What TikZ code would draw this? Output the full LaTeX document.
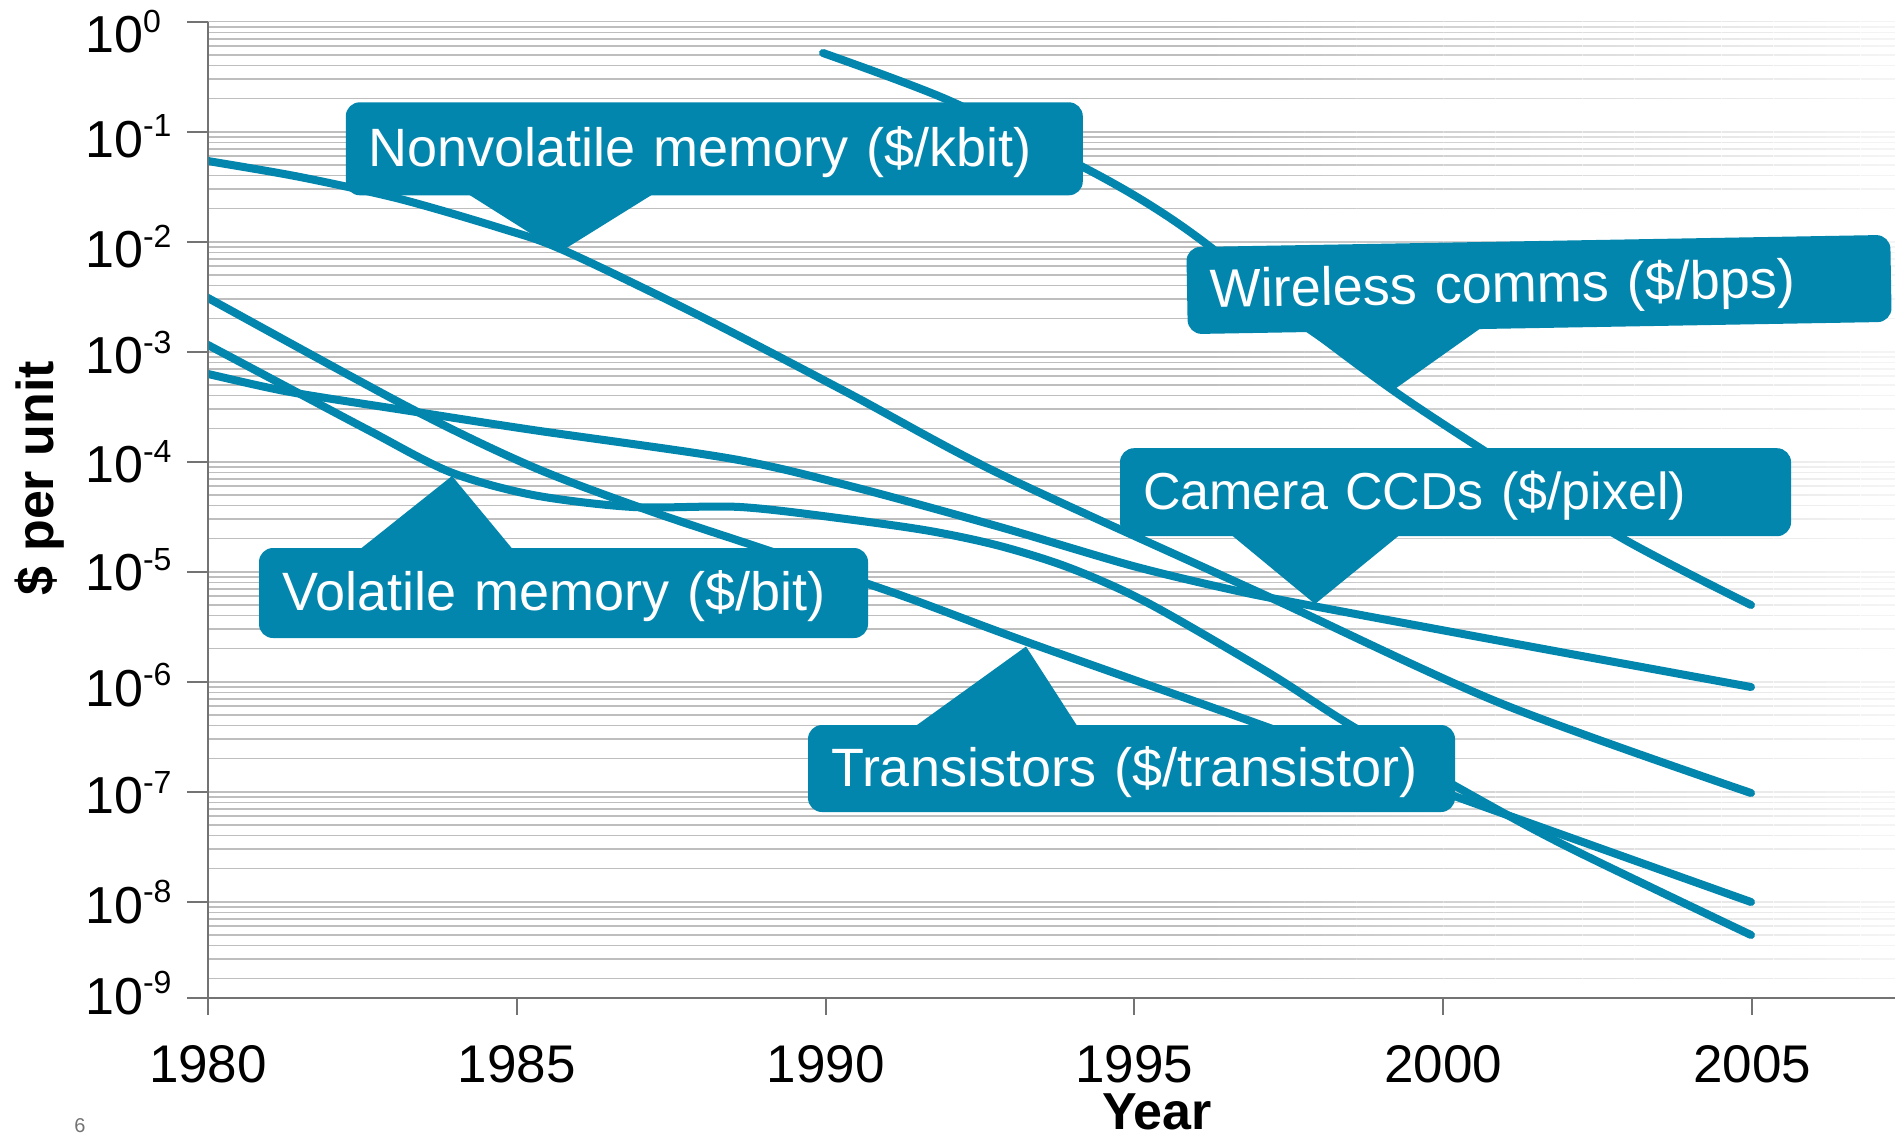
\documentclass[tikz,border=0pt]{standalone}
\usepackage{fontspec}
\setmainfont{Liberation Sans}
\usetikzlibrary{calc}
\definecolor{cblue}{RGB}{2,134,173}
\definecolor{gridgray}{RGB}{190,190,190}
\definecolor{axisgray}{RGB}{115,115,115}
\begin{document}
\begin{tikzpicture}[x=1pt,y=-1pt,
  gridline/.style={draw=gridgray, line width=1.6pt},
  axisline/.style={draw=axisgray, line width=2pt},
  curve/.style={draw=cblue, line width=8pt, line cap=round, line join=round},
  callout/.style={fill=cblue, rounded corners=14pt, text=white, inner xsep=23pt, inner ysep=0pt,
     align=left, text height=40pt, text depth=5pt, font=\fontsize{54}{60}\selectfont},
  pointer/.style={fill=cblue},
  ticklab/.style={anchor=base west, inner sep=0pt, font=\fontsize{52}{56}\selectfont},
  yearlab/.style={anchor=base, inner sep=0pt, font=\fontsize{53}{56}\selectfont},
  axislab/.style={inner sep=0pt, font=\bfseries\fontsize{52}{56}\selectfont}]
\useasboundingbox (0,0) rectangle (1895,1140);
\fill[white] (0,0) rectangle (1895,1140);

% grid lines
\foreach \d in {0,...,8}{
  \draw[gridline] (208,{21.7+110*\d}) -- (1895,{21.7+110*\d});
  \foreach \k in {2,...,9}{
    \pgfmathsetmacro\yy{21.7+110*(\d+1)-110*log10(\k)}
    \ifdim\yy pt<997pt
      \draw[gridline] (208,\yy) -- (1895,\yy);
    \fi
  }
}
% fade of the grid to the right
\foreach \i in {0,...,39}{
  \pgfmathsetmacro\op{0.85*(\i+0.5)/40}
  \fill[white, fill opacity=\op] ({1200+\i*17.375},0) rectangle ({1200+(\i+1)*17.375+0.3},996);
}

% axes
\draw[axisline] (208,21.7) -- (208,998) -- (1895,998);
\foreach \d in {0,...,8}{
  \draw[axisline] (187,{21.7+110*\d}) -- (208,{21.7+110*\d});
}
\draw[axisline] (187,998) -- (208,998);
\foreach \i in {0,...,5}{
  \draw[axisline] ({208+308.8*\i},998) -- ({208+308.8*\i},1015);
}

% curves
\begin{scope}
\clip (208.5,0) rectangle (1895,1000);
% wireless comms
\draw[curve] plot[smooth] coordinates {(823,53) (948,100) (1083,167) (1150,205) (1209,246) (1308,327) (1394,391) (1480,448) (1620,537) (1751,605)};
% nonvolatile memory
\draw[curve] plot[smooth] coordinates {(200,159.5) (208,161) (300,177) (400,199) (500,228) (563,250) (700,316) (850,394) (1000,474) (1267,596) (1500,703) (1751,793)};
% camera CCDs
\draw[curve] plot[smooth] coordinates {(200,372.5) (208,374) (290,392) (410,411) (533,430) (733,459) (850,486) (1000,527) (1133,566) (1233,590) (1313,606) (1533,647) (1751,687)};
% volatile memory
\draw[curve] plot[smooth] coordinates {(200,341) (208,345) (287,387) (370,431) (450,472) (533,495) (633,507) (740,507) (846,519) (930,531) (1000,546) (1070,568) (1148,603) (1269,673) (1347,723) (1457,787) (1566,846) (1751,935)};
% transistors
\draw[curve] plot[smooth] coordinates {(200,294) (208,298) (410,408) (533,467) (650,511) (767,550) (900,595) (1027,642) (1267,727) (1457,797) (1751,902)};
\end{scope}

% callouts
\node[callout, minimum width=737pt, minimum height=93pt, text width=691pt] (nonvol) at (714.3,148.8) {Nonvolatile memory (\$/kbit)};
\coordinate (nonvoltip) at (560,252);
\fill[pointer] ($(nonvol.south west)!0.167!(nonvol.south east)+(0,-1)$) -- (nonvoltip) -- ($(nonvol.south west)!0.416!(nonvol.south east)+(0,-1)$) -- cycle;

\node[callout, rotate=1, minimum width=704pt, minimum height=87pt, text width=658pt] (wireless) at (1539,284.5) {Wireless comms (\$/bps)};
\coordinate (wirelesstip) at (1392,391);
\fill[pointer] ($(wireless.south west)!0.167!(wireless.south east)+(0,-1)$) -- (wirelesstip) -- ($(wireless.south west)!0.416!(wireless.south east)+(0,-1)$) -- cycle;

\node[callout, minimum width=671pt, minimum height=88pt, text width=625pt, font=\fontsize{52}{60}\selectfont] (ccd) at (1455.5,492.2) {Camera CCDs (\$/pixel)};
\coordinate (ccdtip) at (1315,604);
\fill[pointer] ($(ccd.south west)!0.167!(ccd.south east)+(0,-1)$) -- (ccdtip) -- ($(ccd.south west)!0.416!(ccd.south east)+(0,-1)$) -- cycle;

\node[callout, minimum width=609pt, minimum height=90pt, text width=563pt] (volatile) at (563.5,593) {Volatile memory (\$/bit)};
\coordinate (volatiletip) at (452,476);
\fill[pointer] ($(volatile.north west)!0.167!(volatile.north east)+(0,1)$) -- (volatiletip) -- ($(volatile.north west)!0.416!(volatile.north east)+(0,1)$) -- cycle;

\node[callout, minimum width=647pt, minimum height=87pt, text width=601pt] (trans) at (1131.5,768.5) {Transistors (\$/transistor)};
\coordinate (transtip) at (1026,646.5);
\fill[pointer] ($(trans.north west)!0.167!(trans.north east)+(0,1)$) -- (transtip) -- ($(trans.north west)!0.416!(trans.north east)+(0,1)$) -- cycle;

% y tick labels
\node[ticklab] (y0) at (85,52.5) {10\raisebox{20.5pt}{\fontsize{32}{34}\selectfont 0}};
\node[ticklab] (y1) at (85,157) {10\raisebox{20.5pt}{\fontsize{32}{34}\selectfont -1}};
\node[ticklab] (y2) at (85,267.5) {10\raisebox{20.5pt}{\fontsize{32}{34}\selectfont -2}};
\node[ticklab] (y3) at (85,373.5) {10\raisebox{20.5pt}{\fontsize{32}{34}\selectfont -3}};
\node[ticklab] (y4) at (85,482.5) {10\raisebox{20.5pt}{\fontsize{32}{34}\selectfont -4}};
\node[ticklab] (y5) at (85,590.5) {10\raisebox{20.5pt}{\fontsize{32}{34}\selectfont -5}};
\node[ticklab] (y6) at (85,706) {10\raisebox{20.5pt}{\fontsize{32}{34}\selectfont -6}};
\node[ticklab] (y7) at (85,813.5) {10\raisebox{20.5pt}{\fontsize{32}{34}\selectfont -7}};
\node[ticklab] (y8) at (85,923) {10\raisebox{20.5pt}{\fontsize{32}{34}\selectfont -8}};
\node[ticklab] (y9) at (85,1014) {10\raisebox{20.5pt}{\fontsize{32}{34}\selectfont -9}};

% year labels
\node[yearlab] (x1980) at (208,1082) {1980};
\node[yearlab] (x1985) at (516.8,1082) {1985};
\node[yearlab] (x1990) at (825.6,1082) {1990};
\node[yearlab] (x1995) at (1134.4,1082) {1995};
\node[yearlab] (x2000) at (1443.2,1082) {2000};
\node[yearlab] (x2005) at (1752,1082) {2005};

% axis titles
\node[axislab, rotate=90] (ylabel) at (40,478) {\$ per unit};
\node[axislab, anchor=base] (xlabel) at (1157,1129) {Year};
\node[anchor=base, inner sep=0pt, text=axisgray, font=\fontsize{20}{22}\selectfont] (pagenum) at (80,1132) {6};
\end{tikzpicture}
\end{document}
